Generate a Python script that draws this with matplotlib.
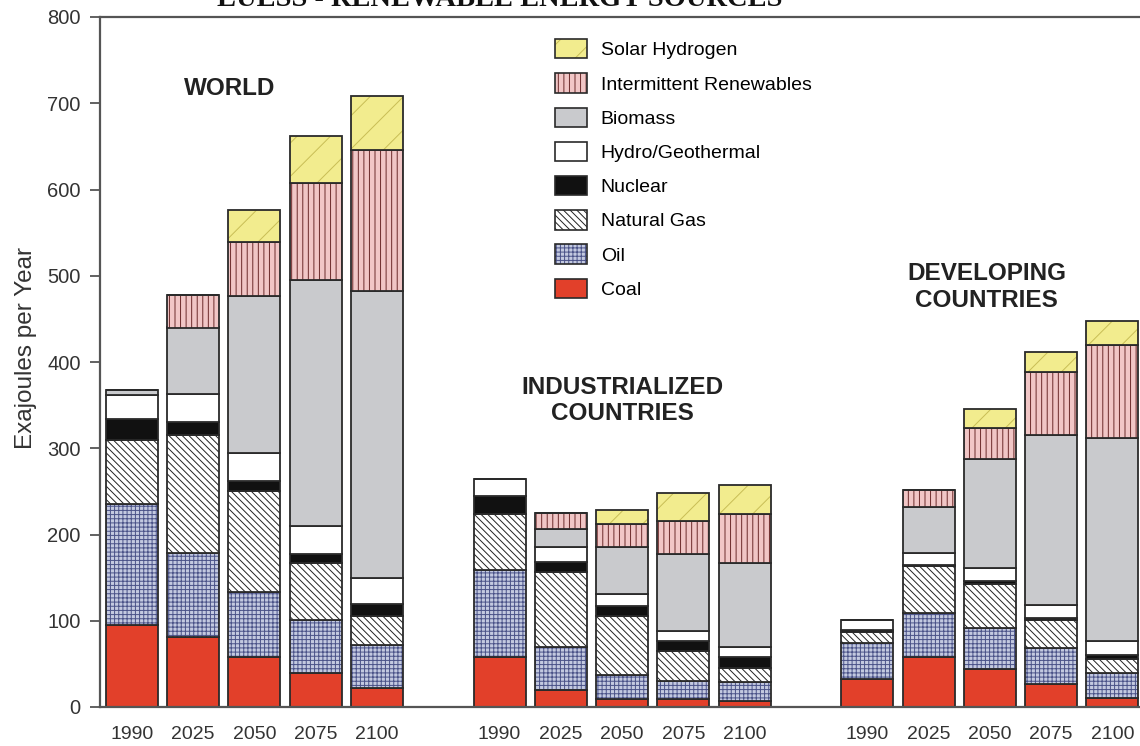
import matplotlib
matplotlib.use("Agg")
import matplotlib.pyplot as plt
from matplotlib.patches import Patch

plt.rcParams['font.family'] = ['Liberation Sans', 'DejaVu Sans']
plt.rcParams['hatch.linewidth'] = 0.7

# Data (Exajoules per year), order: World, Industrialized, Developing x 5 years
groups = ['WORLD', 'INDUSTRIALIZED\nCOUNTRIES', 'DEVELOPING\nCOUNTRIES']
years = ['1990', '2025', '2050', '2075', '2100']

coal = [95, 81, 58, 40, 22,   58, 20, 9, 9, 7,      33, 58, 44, 27, 10]
oil = [140, 97, 75, 61, 50,   101, 49, 28, 21, 22,  41, 51, 48, 41, 29]
gas = [74, 137, 118, 66, 34,  65, 87, 69, 35, 16,   13, 54, 51, 33, 17]
nuclear = [25, 16, 11, 10, 13, 21, 12, 11, 11, 13,  2, 2, 3, 2, 4]
hydro = [28, 32, 32, 33, 31,  19, 17, 14, 12, 12,   12, 13, 15, 15, 16]
biomass = [6, 77, 182, 285, 332, 0, 21, 55, 89, 97, 0, 54, 127, 197, 236]
intermittent = [0, 38, 63, 113, 164, 0, 19, 26, 39, 57, 0, 20, 35, 73, 108]
solar_h2 = [0, 0, 37, 54, 62,  0, 0, 16, 32, 33,    0, 0, 23, 24, 27]

layers = [
    ('Coal', coal, '#e2402a', None, '#e2402a'),
    ('Oil', oil, '#c3c9e0', '++++', '#4a5288'),
    ('Natural Gas', gas, 'white', '\\\\\\\\\\', '#222222'),
    ('Nuclear', nuclear, '#111111', None, '#111111'),
    ('Hydro/Geothermal', hydro, 'white', None, 'white'),
    ('Biomass', biomass, '#c9cacd', None, '#c9cacd'),
    ('Intermittent Renewables', intermittent, '#f1c6c6', '|||', '#6b2a2a'),
    ('Solar Hydrogen', solar_h2, '#f2ec8e', '/', '#c8bd55'),
]

x = [g * 6 + i for g in range(len(groups)) for i in range(len(years))]
xlabels = years * len(groups)

fig = plt.figure(figsize=(11.4, 7.46), dpi=100)
ax = fig.add_axes([100 / 1140, 39 / 746, 1.0 - 100 / 1140, 690 / 746])

edge = '#2a2a2a'
bottom = [0] * len(x)
handles = []
for name, vals, face, hatch, hcol in layers:
    ax.bar(x, vals, 0.85, bottom=bottom, color=face, hatch=hatch,
           edgecolor=hcol, linewidth=0)
    ax.bar(x, vals, 0.85, bottom=bottom, fill=False, edgecolor=edge,
           linewidth=1.3)
    bottom = [b + v for b, v in zip(bottom, vals)]
    h1 = Patch(facecolor=face, hatch=hatch, edgecolor=hcol, linewidth=0)
    h2 = Patch(fill=False, edgecolor=edge, linewidth=1.2)
    handles.append(((h1, h2), name))

handles = handles[::-1]
ax.legend([h for h, n in handles], [n for h, n in handles],
          loc='upper left', bbox_to_anchor=(0.4375, 0.968), frameon=False,
          fontsize=14, handlelength=1.65, handleheight=1.15,
          labelspacing=0.72, handletextpad=0.7, borderpad=0,
          borderaxespad=0)

ax.set_xlim(-0.52, 16.45)
ax.set_ylim(0, 800)
ax.set_yticks(range(0, 801, 100))
ax.set_xticks(x)
ax.set_xticklabels(xlabels)
ax.tick_params(axis='x', length=0, pad=14, labelsize=14, colors='#333333')
ax.tick_params(axis='y', length=7, width=1.3, pad=7, labelsize=14.5,
               colors='#555555', labelcolor='#333333')
for s in ['left', 'top', 'bottom']:
    ax.spines[s].set_color('#555555')
    ax.spines[s].set_linewidth(1.6)
ax.spines['right'].set_visible(False)
ax.set_ylabel('Exajoules per Year', fontsize=17.5, color='#333333')
ax.yaxis.set_label_coords(-0.061, 0.52)

label_pos = [(1.6, 730), (8.0, 384), (13.95, 516)]
for (gx, gy), g in zip(label_pos, groups):
    ax.text(gx, gy, g, ha='center', va='top', fontsize=17.5,
            fontweight='bold', color='#222222', linespacing=1.2)

fig.text(500 / 1140, 1 - 6 / 746, 'LUESS - RENEWABLE ENERGY SOURCES',
         ha='center', va='baseline', fontsize=20.5, fontweight='bold',
         family='Liberation Serif', color='#111111')

fig.savefig('out.png', dpi=100)
